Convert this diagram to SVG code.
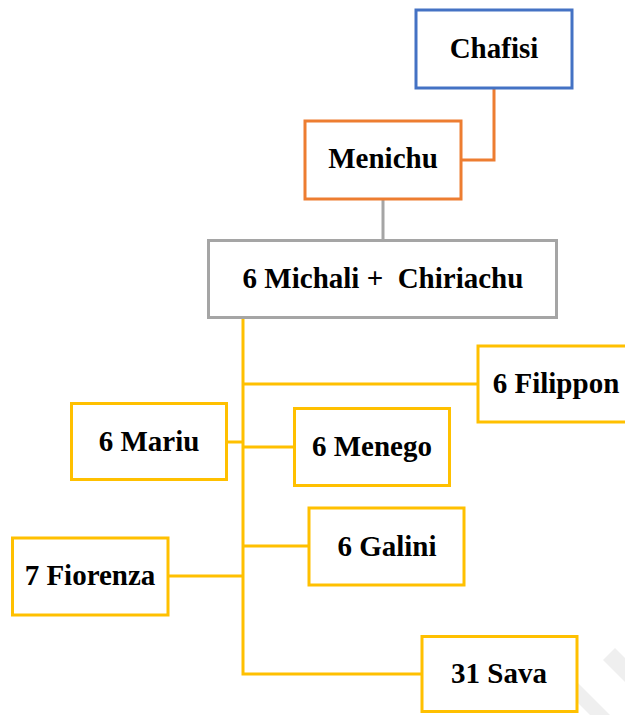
<svg xmlns="http://www.w3.org/2000/svg" width="625" height="715" viewBox="0 0 625 715">
<style>
  .box { fill: #FFFFFF; stroke-width: 3; }
  .blue { stroke: #4472C4; }
  .orange { stroke: #ED7D31; }
  .gray { stroke: #A5A5A5; }
  .yellow { stroke: #FFC000; }
  .lbl { font-family: "Liberation Serif", "Times New Roman", serif; font-weight: bold; font-size: 29px; fill: #000000; text-anchor: middle; }
  .conn { fill: none; stroke-width: 3; }
  .wm { fill: #EFEFEF; }
</style>
<rect width="625" height="715" fill="#FFFFFF"/>
<g id="watermark">
  <polygon class="wm" points="568,693 578,683 610,715 590,715"/>
  <polygon class="wm" points="603,660 615,648 625,658 625,682"/>
</g>
<g id="connectors">
  <polyline class="conn orange" points="494,89 494,160 462,160"/>
  <line class="conn gray" x1="383" y1="199" x2="383" y2="240"/>
  <polyline class="conn yellow" points="243,318 243,674 421,674"/>
  <line class="conn yellow" x1="243" y1="384" x2="477" y2="384"/>
  <line class="conn yellow" x1="228" y1="442" x2="243" y2="442"/>
  <line class="conn yellow" x1="243" y1="447" x2="293" y2="447"/>
  <line class="conn yellow" x1="243" y1="546" x2="308" y2="546"/>
  <line class="conn yellow" x1="169" y1="576" x2="243" y2="576"/>
</g>
<g id="chafisi">
  <rect class="box blue" x="416" y="10" width="156" height="78"/>
  <text class="lbl" x="494" y="58">Chafisi</text>
</g>
<g id="menichu">
  <rect class="box orange" x="305" y="121" width="156" height="78"/>
  <text class="lbl" x="383" y="168">Menichu</text>
</g>
<g id="michali">
  <rect class="box gray" x="208.5" y="240.5" width="348" height="77"/>
  <text class="lbl" x="383" y="288" xml:space="preserve">6 Michali +  Chiriachu</text>
</g>
<g id="filippon">
  <rect class="box yellow" x="478" y="346" width="156" height="76"/>
  <text class="lbl" x="556" y="393">6 Filippon</text>
</g>
<g id="mariu">
  <rect class="box yellow" x="71.5" y="403.5" width="155" height="76"/>
  <text class="lbl" x="149" y="451">6 Mariu</text>
</g>
<g id="menego">
  <rect class="box yellow" x="294.5" y="408.5" width="155" height="77"/>
  <text class="lbl" x="372" y="456">6 Menego</text>
</g>
<g id="galini">
  <rect class="box yellow" x="309" y="508" width="155" height="77"/>
  <text class="lbl" x="387" y="556">6 Galini</text>
</g>
<g id="fiorenza">
  <rect class="box yellow" x="12.5" y="538" width="155.5" height="77"/>
  <text class="lbl" x="90" y="585">7 Fiorenza</text>
</g>
<g id="sava">
  <rect class="box yellow" x="422" y="636.5" width="155" height="75"/>
  <text class="lbl" x="499" y="683">31 Sava</text>
</g>
</svg>
